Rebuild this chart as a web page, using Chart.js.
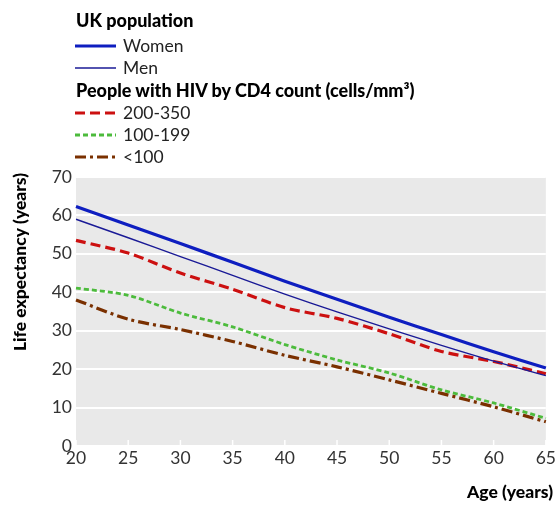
<!DOCTYPE html>
<html>
<head>
<meta charset="utf-8">
<script src="https://cdn.jsdelivr.net/npm/chart.js@4.4.1/dist/chart.umd.min.js"></script>
<style>
  html, body { margin:0; padding:0; background:#fff; }
  #wrap { position:relative; width:558px; height:506px; }
  #c { position:absolute; left:0; top:0; }
  #legend { position:absolute; left:0; top:0; width:558px; height:175px; font-family: Lato, "Noto Sans", sans-serif; color:#000; }
  .lh { position:absolute; left:76px; font-weight:900; font-size:18px; height:22px; line-height:22px; white-space:nowrap; }
  .li { position:absolute; left:75px; font-size:17.5px; height:22px; line-height:22px; display:flex; align-items:center; color:#222; white-space:nowrap; }
  .li canvas { margin-right:7px; }
</style>
</head>
<body>
<div id="wrap">
  <canvas id="c" width="558" height="506"></canvas>
  <div id="legend"></div>
</div>
<script>
const ages = [20, 25, 30, 35, 40, 45, 50, 55, 60, 65];
const women   = [62.3, 57.5, 52.7, 47.8, 42.9, 38.2, 33.5, 29.0, 24.5, 20.3];
const men     = [59.0, 54.2, 49.3, 44.4, 39.5, 34.9, 30.5, 26.2, 22.1, 18.3];
const cd4_200 = [53.5, 50.2, 45.0, 40.8, 36.0, 33.2, 29.2, 24.6, 22.0, 18.8];
const cd4_100 = [41.1, 39.2, 34.6, 31.0, 26.4, 22.4, 19.0, 14.6, 11.2, 7.2];
const cd4_lt  = [38.0, 33.0, 30.3, 27.2, 23.6, 20.6, 17.2, 13.7, 10.2, 6.3];
const yTicks  = [0, 10, 20, 30, 40, 50, 60, 70];
const legendGroups = ["UK population", "People with HIV by CD4 count (cells/mm³)"];
const seriesNames = ["Women", "Men", "200-350", "100-199", "<100"];

const styles = [
  {color:'#0e1ec0', width:3.2, dash:[]},
  {color:'#1a1a96', width:1.4, dash:[]},
  {color:'#cc1010', width:3.2, dash:[10,5]},
  {color:'#4cbb3c', width:2.8, dash:[5,3]},
  {color:'#7a3000', width:3.2, dash:[11,4,3,4]}
];
const seriesData = [women, men, cd4_200, cd4_100, cd4_lt];

// HTML legend (row centres)
const leg = document.getElementById('legend');
function header(t, cy){ const d=document.createElement('div'); d.className='lh'; d.style.top=(cy-11)+'px'; d.textContent=t; leg.appendChild(d); }
function item(i, cy){
  const d=document.createElement('div'); d.className='li'; d.style.top=(cy-11)+'px';
  const cv=document.createElement('canvas'); cv.width=41; cv.height=10;
  const g=cv.getContext('2d'); const s=styles[i];
  g.strokeStyle=s.color; g.lineWidth=s.width; g.setLineDash(s.dash);
  g.beginPath(); g.moveTo(0,5); g.lineTo(41,5); g.stroke();
  d.appendChild(cv);
  const sp=document.createElement('span'); sp.textContent=seriesNames[i]; d.appendChild(sp);
  leg.appendChild(d);
}
header(legendGroups[0], 20); item(0, 46); item(1, 68);
header(legendGroups[1], 90); item(2, 113); item(3, 135); item(4, 157);

const bgPlugin = {
  id:'bg',
  beforeDraw(chart){
    const {ctx, chartArea:a} = chart;
    ctx.save(); ctx.fillStyle='#e9e9e9';
    ctx.fillRect(a.left, a.top, a.right-a.left, a.bottom-a.top);
    ctx.restore();
  },
  beforeDatasetsDraw(chart){
    const {ctx, chartArea:a, scales:{x}} = chart;
    ctx.save(); ctx.strokeStyle='#ffffff'; ctx.lineWidth=1.5;
    ages.forEach((v,i)=>{ const px=x.getPixelForValue(i); ctx.beginPath(); ctx.moveTo(px,a.bottom); ctx.lineTo(px,a.bottom-6); ctx.stroke(); });
    ctx.restore();
  },
  afterDraw(chart){
    const {ctx} = chart;
    ctx.save();
    ctx.fillStyle='#000';
    ctx.font='900 17.5px Lato, "Noto Sans", sans-serif';
    ctx.textAlign='right'; ctx.textBaseline='middle';
    ctx.fillText('Age (years)', 553, 492);
    ctx.translate(20, 262); ctx.rotate(-Math.PI/2);
    ctx.textAlign='center';
    ctx.fillText('Life expectancy (years)', 0, 0);
    ctx.restore();
  }
};

new Chart(document.getElementById('c'), {
  type:'line',
  data:{
    labels: ages.map(String),
    datasets: seriesData.map((d,i)=>({
      label: seriesNames[i], data:d,
      borderColor: styles[i].color, borderWidth: styles[i].width,
      borderDash: styles[i].dash, pointRadius:0, tension:0.3, fill:false
    }))
  },
  options:{
    responsive:false, animation:false,
    layout:{ padding:{ left:0, right:11, top:177, bottom:0 } },
    plugins:{ legend:{display:false}, tooltip:{enabled:false} },
    scales:{
      x:{
        type:'category', offset:false,
        grid:{ display:false, drawTicks:false },
        border:{ display:false },
        ticks:{ color:'#333', font:{ family:'Lato, "Noto Sans", sans-serif', size:17.5 }, padding:2, maxRotation:0, autoSkip:false },
        afterFit(s){ s.height = 60; }
      },
      y:{
        min:0, max:70,
        afterBuildTicks(s){ s.ticks = yTicks.map(v=>({value:v})); },
        grid:{ color:'#ffffff', lineWidth:2, drawTicks:false },
        border:{ display:false },
        ticks:{ color:'#333', font:{ family:'Lato, "Noto Sans", sans-serif', size:17.5 }, padding:4 },
        afterFit(s){ s.width = 76; }
      }
    }
  },
  plugins:[bgPlugin]
});
</script>
</body>
</html>
